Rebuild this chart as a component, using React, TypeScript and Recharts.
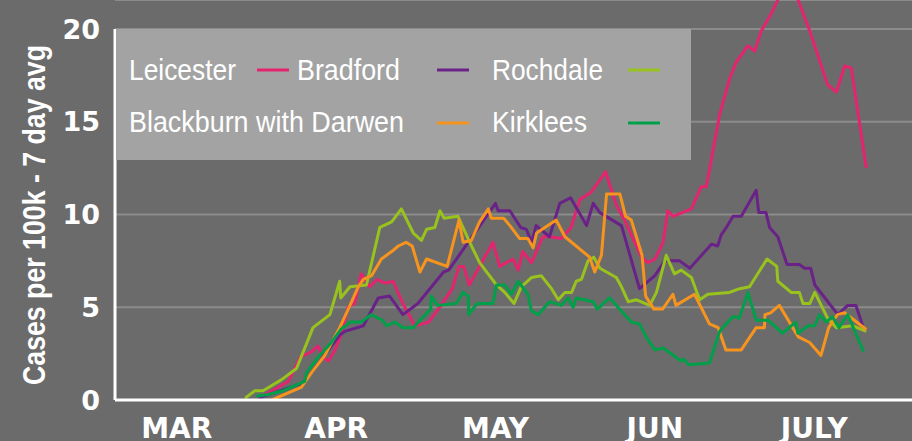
import React from "react";
import { LineChart, Line, XAxis, YAxis, CartesianGrid, ReferenceLine } from "recharts";

// x = day index (MAR label at day 12), y = cases per 100k (7 day avg)
const leicester: [number, number][] = [[27.8,0.1],[30.5,0.5],[33.7,1.0],[35.3,1.9],[36.0,2.3],[38.2,2.6],[39.5,2.9],[40.5,2.3],[41.5,2.1],[42.8,2.7],[44.1,3.6],[45.3,5.0],[46.6,5.2],[47.9,6.8],[49.6,6.1],[50.9,6.5],[52.5,6.3],[54.1,6.4],[56.0,5.2],[58.3,4.0],[61.0,4.2],[63.4,5.1],[65.6,6.0],[66.9,7.2],[67.8,7.2],[68.9,6.2],[70.9,7.2],[73.5,8.5],[74.8,7.2],[77.4,7.6],[78.4,7.0],[79.3,8.0],[81.0,7.4],[83.2,8.8],[84.5,8.8],[86.8,8.7],[88.7,9.3],[90.4,10.8],[92.6,11.2],[95.4,12.3],[97.5,10.5],[99.1,9.7],[102.4,7.7],[103.6,7.4],[105.0,7.6],[106.6,8.5],[107.5,10.2],[108.5,9.9],[112.1,10.3],[114.0,11.5],[115.0,11.5],[117.6,15.4],[119.5,17.3],[120.8,18.2],[123.1,19.1],[124.4,18.8],[125.7,19.9],[127.6,20.8],[131.0,22.8],[132.8,21.6],[135.1,19.9],[138.6,17.0],[140.3,16.6],[141.9,18.0],[143.2,17.9],[146.1,12.5]];
const bradford: [number, number][] = [[27.9,0.1],[36.3,0.9],[37.2,1.1],[40.2,2.2],[43.7,3.5],[44.7,3.7],[48.3,4.0],[51.2,5.5],[53.4,5.6],[56.0,4.6],[58.9,5.2],[63.9,6.9],[64.9,7.0],[74.0,10.6],[74.5,10.2],[76.8,10.2],[78.9,9.3],[80.0,9.2],[81.0,8.5],[81.9,9.4],[84.5,8.8],[86.5,10.6],[88.6,10.9],[91.7,9.4],[93.0,10.6],[94.3,10.1],[98.5,9.4],[102.0,6.0],[105.0,6.7],[106.9,7.5],[109.8,7.5],[111.8,7.1],[116.0,8.4],[117.2,8.3],[117.9,8.9],[118.9,9.3],[120.2,9.9],[121.8,9.9],[124.7,11.3],[125.2,10.1],[126.6,10.1],[127.3,9.3],[128.9,8.8],[130.7,7.3],[133.1,7.3],[134.1,7.1],[135.3,7.1],[136.1,6.2],[140.6,4.6],[142.5,5.1],[144.1,5.1],[145.4,4.0]];
const rochdale: [number, number][] = [[25.3,0.1],[27.2,0.5],[28.8,0.5],[32.4,1.1],[35.3,1.7],[38.5,3.9],[41.8,4.6],[43.7,6.4],[43.9,5.5],[45.7,6.1],[48.9,6.2],[51.5,9.3],[53.8,9.6],[55.7,10.3],[58.0,9.0],[59.6,8.6],[60.6,9.2],[62.2,9.3],[63.2,10.2],[64.0,9.8],[66.7,9.9],[69.0,8.5],[70.9,7.4],[74.2,6.2],[75.8,5.8],[77.6,5.2],[79.0,6.1],[81.0,6.6],[82.9,6.7],[84.9,6.0],[86.2,5.4],[87.5,5.8],[88.8,5.8],[89.7,6.4],[90.7,6.5],[92.0,7.5],[93.1,7.7],[94.3,7.1],[97.5,6.6],[98.5,6.1],[99.8,5.3],[101.4,5.4],[104.0,5.1],[105.3,5.8],[107.2,7.8],[108.8,6.8],[110.1,7.0],[112.1,6.6],[113.7,5.4],[115.3,5.7],[119.5,5.8],[121.5,6.0],[123.4,6.1],[126.8,7.6],[128.7,7.2],[128.9,6.4],[131.5,5.8],[133.1,5.8],[133.8,5.2],[135.1,5.2],[136.1,5.8],[138.6,4.4],[140.3,3.9],[143.5,4.0],[146.1,3.7]];
const blackburn: [number, number][] = [[30.5,0.0],[33.0,0.3],[36.3,0.7],[38.3,1.5],[40.8,2.4],[43.7,3.9],[45.7,5.1],[47.3,6.1],[48.3,6.5],[49.9,6.7],[51.8,7.6],[53.8,8.0],[55.1,8.3],[56.6,8.5],[57.8,8.3],[59.3,6.9],[60.6,7.6],[64.6,7.2],[66.9,9.7],[67.7,8.5],[69.3,8.6],[70.9,9.6],[72.6,10.3],[73.2,9.8],[75.6,9.8],[76.8,9.4],[78.7,8.7],[80.3,8.7],[81.3,8.2],[82.0,9.0],[85.8,9.7],[87.5,8.8],[92.3,7.7],[93.3,6.9],[94.6,7.8],[95.6,11.1],[98.2,11.1],[99.3,9.9],[100.4,9.7],[102.5,7.8],[103.2,5.6],[104.8,4.9],[106.5,4.9],[108.5,5.7],[109.1,5.1],[112.7,5.7],[115.6,4.1],[117.3,3.9],[118.8,2.7],[121.8,2.7],[124.7,3.9],[126.3,3.9],[126.4,4.6],[127.5,4.7],[129.2,5.1],[132.9,3.4],[135.1,3.1],[137.3,2.4],[138.8,3.9],[140.5,4.6],[141.9,4.7],[146.1,3.8]];
const kirklees: [number, number][] = [[27.5,0.2],[29.8,0.3],[32.7,0.5],[36.9,1.0],[37.3,1.5],[39.8,2.4],[42.1,3.1],[43.9,3.8],[45.7,4.2],[47.9,4.2],[49.8,4.6],[52.0,4.3],[52.8,4.0],[54.4,4.2],[56.0,3.9],[58.0,3.9],[61.4,4.9],[61.5,5.6],[62.7,5.1],[66.4,5.2],[67.7,5.8],[68.7,5.6],[68.8,4.6],[70.4,5.2],[73.5,5.2],[74.2,6.2],[75.8,6.2],[77.1,5.7],[78.4,6.4],[80.3,5.7],[81.0,4.8],[82.3,4.6],[84.5,5.3],[86.8,5.1],[88.1,5.5],[89.1,5.0],[89.7,5.5],[93.0,5.3],[93.8,4.9],[96.2,5.5],[100.4,4.2],[102.0,4.1],[103.3,3.4],[105.0,2.7],[106.6,2.8],[110.1,2.1],[110.6,2.2],[111.6,1.9],[115.6,2.0],[117.6,3.7],[120.2,4.5],[121.4,4.4],[123.1,5.8],[124.7,4.3],[127.0,4.3],[129.8,3.6],[132.4,4.2],[132.8,3.6],[134.8,4.0],[136.1,4.0],[137.0,4.6],[138.3,4.2],[139.5,4.5],[140.8,3.9],[142.5,4.6],[145.6,2.6]];

const monthTicks = [12, 43, 74, 105, 136];
const monthLabels = ["MAR", "APR", "MAY", "JUN", "JULY"];
const yTicks = [0, 5, 10, 15, 20];

const seriesNames = ["Leicester", "Bradford", "Rochdale", "Blackburn with Darwen", "Kirklees"];
const seriesColors = ["#e5246f", "#6a2288", "#98c21d", "#f7941d", "#00a04a"];
const seriesData = [leicester, bradford, rochdale, blackburn, kirklees];

// legend layout (relative to legend box): text x, baseline y, rendered width; line x, y
const legendTextPos = [[13, 51, 107], [181, 51, 103], [376, 51, 111], [13, 103, 275], [376, 103, 95]];
const legendLinePos = [[141, 41], [321, 41], [512, 41], [321, 94], [512, 94]];

const toPoints = (arr: [number, number][]) => arr.map(([d, v]) => ({ d, v }));

const BG = "#6b6b6b";
const SANS = "'Liberation Sans', Arial, sans-serif";
const HEAVY = "'DejaVu Sans', sans-serif";

const MonthTick = (props: any) => {
  const { x, y, payload } = props;
  const label = monthLabels[monthTicks.indexOf(payload.value)] ?? "";
  return (
    <text x={x} y={y} textAnchor="middle" fill="#ffffff" fontFamily={HEAVY} fontWeight={700} fontSize={28}>
      {label}
    </text>
  );
};

export default function App() {
  return (
    <div style={{ position: "absolute", left: 0, top: 0, width: 912, height: 441, background: BG, overflow: "hidden" }}>
      <LineChart width={912} height={441} margin={{ top: 0, right: 0, bottom: 0, left: 0 }}>
        <CartesianGrid horizontal vertical={false} stroke="#8b8b8b" strokeWidth={2} />
        <XAxis
          type="number"
          dataKey="d"
          domain={[0, 155]}
          ticks={monthTicks}
          interval={0}
          height={41}
          axisLine={{ stroke: "#ffffff", strokeWidth: 3 }}
          tickLine={false}
          tickSize={0}
          tickMargin={38}
          tick={<MonthTick />}
          allowDataOverflow
        />
        <YAxis
          type="number"
          dataKey="v"
          domain={[0, 21.56]}
          ticks={yTicks}
          interval={0}
          width={115}
          axisLine={false}
          tickLine={false}
          tickSize={0}
          tickMargin={15}
          tick={{ fill: "#ffffff", fontFamily: HEAVY, fontWeight: 700, fontSize: 27 }}
          allowDataOverflow
        />
        <ReferenceLine segment={[{ x: 0, y: 0 }, { x: 0, y: 20 }]} stroke="#ffffff" strokeWidth={3} ifOverflow="visible" />
        {seriesData.map((s, i) => (
          <Line
            key={seriesNames[i]}
            data={toPoints(s)}
            dataKey="v"
            type="linear"
            stroke={seriesColors[i]}
            strokeWidth={3}
            strokeLinejoin="round"
            dot={false}
            activeDot={false}
            isAnimationActive={false}
          />
        ))}
      </LineChart>
      <svg style={{ position: "absolute", left: 0, top: 0 }} width={912} height={441}>
        <text
          transform="translate(45,215) rotate(-90)"
          textAnchor="middle"
          fill="#ffffff"
          fontFamily={SANS}
          fontWeight={700}
          fontSize={31}
          textLength={340}
          lengthAdjust="spacingAndGlyphs"
        >
          Cases per 100k - 7 day avg
        </text>
        <g transform="translate(116,29)">
          <rect x={0} y={0} width={575} height={131} fill="#a3a3a3" />
          {seriesNames.map((n, i) => (
            <g key={n}>
              <text
                x={legendTextPos[i][0]}
                y={legendTextPos[i][1]}
                fill="#ffffff"
                fontFamily={SANS}
                fontSize={30}
                textLength={legendTextPos[i][2]}
                lengthAdjust="spacingAndGlyphs"
              >
                {n}
              </text>
              <line
                x1={legendLinePos[i][0]}
                x2={legendLinePos[i][0] + 32}
                y1={legendLinePos[i][1]}
                y2={legendLinePos[i][1]}
                stroke={seriesColors[i]}
                strokeWidth={3}
              />
            </g>
          ))}
        </g>
      </svg>
    </div>
  );
}
